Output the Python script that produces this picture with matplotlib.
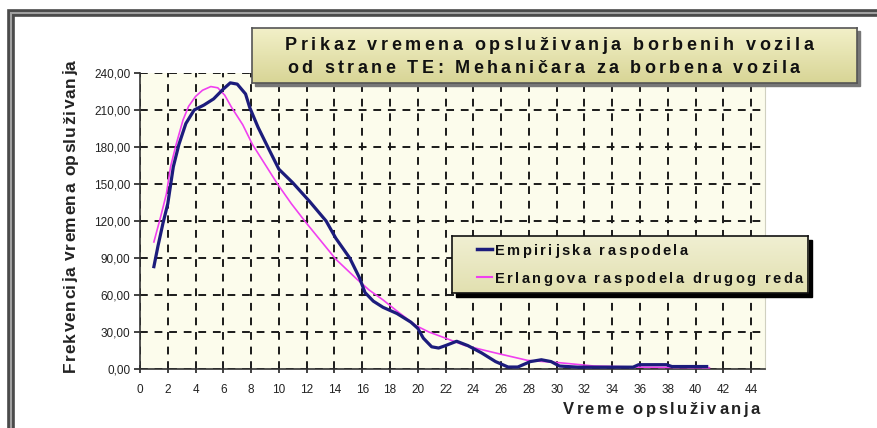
import numpy as np
import matplotlib
matplotlib.use("Agg")
import matplotlib.pyplot as plt
from matplotlib.patches import Rectangle
from matplotlib.colors import LinearSegmentedColormap

W, H = 877, 428
FONT = "Liberation Sans"

EMP_X = [1, 1.3, 1.65, 2, 2.4, 2.8, 3.3, 3.9, 4.6, 5.3, 6, 6.5, 7, 7.6, 7.9, 8.5,
         9.2, 10, 11, 12.2, 13.4, 14.1, 15.1, 15.8, 16.2, 16.8, 17.5, 18.5, 19.5,
         20, 20.4, 21, 21.5, 22, 22.8, 23.6, 24.6, 25.6, 26.5, 27.2, 28.1, 28.9,
         29.6, 30.2, 31.5, 35.5, 35.9, 37.9, 38.3, 40.8]
EMP_Y = [83, 100, 118, 134, 164, 182, 199, 210, 214, 219, 227, 232, 231, 223, 212, 196,
         180, 162, 151, 136, 120, 106, 90, 74, 62, 55, 50, 45, 38,
         33, 25, 18, 17, 19, 22.5, 19, 13, 6, 1.6, 1.6, 6, 7.5,
         6, 2.4, 1.5, 1.5, 3.5, 3.5, 2, 2]

# Erlang distribution of 2nd order (magenta)
ERL_X = [1, 1.5, 1.9, 2.2, 2.6, 3.1, 3.5, 4.0, 4.5, 5.1, 5.6, 6.1, 6.6, 7.4, 8.1, 9, 9.9,
         10.9, 12, 14.1, 15.6, 16.5, 17.5, 18.5, 19.9, 20.8, 22, 23.4, 25.6, 27.9,
         30.3, 32.7, 36, 41]
ERL_Y = [103, 124, 142, 164, 182, 202, 213, 221, 226, 229, 228, 222, 212, 198, 182, 166, 150,
         134, 118, 89, 73, 64, 56, 47, 35, 30, 25, 19, 13, 7,
         5, 2.4, 1.5, 1]

X_TICKS = list(range(0, 45, 2))
Y_TICKS = [0, 30, 60, 90, 120, 150, 180, 210, 240]
Y_TICKLABELS = ["0,00", "30,00", "60,00", "90,00", "120,00", "150,00", "180,00", "210,00", "240,00"]

TITLE_1 = "Prikaz vremena opsluživanja borbenih vozila"
TITLE_2 = "od strane TE: Mehaničara za borbena vozila"
Y_LABEL = "Frekvencija vremena opsluživanja"
X_LABEL = "Vreme opsluživanja"
LEG_1 = "Empirijska raspodela"
LEG_2 = "Erlangova raspodela drugog reda"

NAVY = "#1c1c7c"
MAGENTA = "#f040f0"


def fx(px):
    return px / W


def fy(py):
    return (H - py) / H


def text_width(fig, r, s, **kw):
    t = fig.text(0, 0, s + "|", **kw)
    w = t.get_window_extent(r).width
    t.remove()
    t = fig.text(0, 0, "|", **kw)
    w -= t.get_window_extent(r).width
    t.remove()
    return w


def fit_text(fig, s, p0, p1, base, rotation=0, **kw):
    # places characters one by one so the text runs from p0 to p1 (pixels)
    r = fig.canvas.get_renderer()
    natural = text_width(fig, r, s, **kw)
    gap = (abs(p1 - p0) - natural) / (len(s) - 1)
    for i, ch in enumerate(s):
        if ch == " ":
            continue
        off = text_width(fig, r, s[:i], **kw) + i * gap
        if rotation == 0:
            x, y = p0 + off, base
        else:
            x, y = base, p0 - off
        fig.text(fx(x), fy(y), ch, rotation=rotation, rotation_mode="anchor",
                 ha="left", va="baseline", zorder=8, **kw)


def panel(fig, x0, y0, x1, y1, c_top, c_bot, edge, shadow, off):
    fig.add_artist(Rectangle((fx(x0 + off), fy(y1 + off)), (x1 - x0) / W, (y1 - y0) / H,
                             transform=fig.transFigure, color=shadow, zorder=3))
    bax = fig.add_axes([fx(x0), fy(y1), (x1 - x0) / W, (y1 - y0) / H], zorder=4)
    cmap = LinearSegmentedColormap.from_list("box", [c_top, c_bot])
    bax.imshow(np.linspace(0, 1, 64)[:, None], aspect="auto", cmap=cmap,
               extent=[0, 1, 0, 1])
    bax.set_xticks([])
    bax.set_yticks([])
    for sp in bax.spines.values():
        sp.set_color(edge)
        sp.set_linewidth(1.2)
    return bax


fig = plt.figure(figsize=(W / 100, H / 100), dpi=100)
fig.patch.set_facecolor("white")

# outer frame (runs off the right and bottom edge)
fig.add_artist(Rectangle((fx(10.5), fy(500)), 1.2, fy(13) - fy(500), transform=fig.transFigure,
                         fill=False, edgecolor="#4a4a4a", linewidth=5.5, zorder=1))
fig.add_artist(Rectangle((fx(10.5), fy(500)), 1.2, fy(13) - fy(500), transform=fig.transFigure,
                         fill=False, edgecolor="#a0a0a0", linewidth=1.5, zorder=1))

ax = fig.add_axes([fx(140), fy(369), (765 - 140) / W, (369 - 73) / H])
ax.set_facecolor("#fcfcec")
ax.set_xlim(0, 45)
ax.set_ylim(0, 240)

ax.plot(ERL_X, ERL_Y, color=MAGENTA, linewidth=1.2, zorder=3)
ax.plot(EMP_X, EMP_Y, color=NAVY, linewidth=2.3, zorder=4, solid_joinstyle="round")

ax.set_xticks(X_TICKS)
ax.set_yticks(Y_TICKS)
ax.set_yticklabels(Y_TICKLABELS)
ax.grid(True, color="#1a1a1a", linestyle=(0, (4, 3.5)), linewidth=1.4)
ax.set_axisbelow(True)
ax.tick_params(axis="y", direction="out", length=4, width=1.2, pad=3,
               labelsize=8.5, colors="#222222")
ax.tick_params(axis="x", direction="inout", length=6, width=1.2, pad=8,
               labelsize=8.5, colors="#222222")
for lbl in ax.get_xticklabels() + ax.get_yticklabels():
    lbl.set_fontfamily(FONT)
ax.spines["top"].set_visible(False)
ax.spines["right"].set_color("#d0d0c0")
ax.spines["left"].set_color("#333333")
ax.spines["bottom"].set_color("#333333")
ax.spines["left"].set_linewidth(1.2)
ax.spines["bottom"].set_linewidth(1.2)

# title box
panel(fig, 252, 28, 857, 83, "#f2f0c8", "#d8d596", "#555555", "#777777", 3)
fit_text(fig, TITLE_1, 285, 813, 50, family=FONT, fontsize=13, fontweight="bold", color="#111111")
fit_text(fig, TITLE_2, 287, 800, 73, family=FONT, fontsize=13, fontweight="bold", color="#111111")

# legend box
panel(fig, 452, 236, 808, 293, "#f0efd2", "#e2e0b0", "#111111", "#000000", 4)
fig.add_artist(plt.Line2D([fx(477), fx(492)], [fy(249), fy(249)], transform=fig.transFigure,
                          color=NAVY, linewidth=2.5, zorder=8))
fig.add_artist(plt.Line2D([fx(477), fx(492)], [fy(277), fy(277)], transform=fig.transFigure,
                          color=MAGENTA, linewidth=1.5, zorder=8))
fit_text(fig, LEG_1, 495, 688, 255, family=FONT, fontsize=10.5, fontweight="bold", color="#111111")
fit_text(fig, LEG_2, 495, 803, 283, family=FONT, fontsize=10.5, fontweight="bold", color="#111111")

# axis labels
fit_text(fig, Y_LABEL, 372, 60, 75, rotation=90, family=FONT, fontsize=12.5,
         fontweight="bold", color="#222222")
fit_text(fig, X_LABEL, 563, 760, 414, family=FONT, fontsize=12, fontweight="bold", color="#222222")

fig.savefig("out.png", dpi=100)
